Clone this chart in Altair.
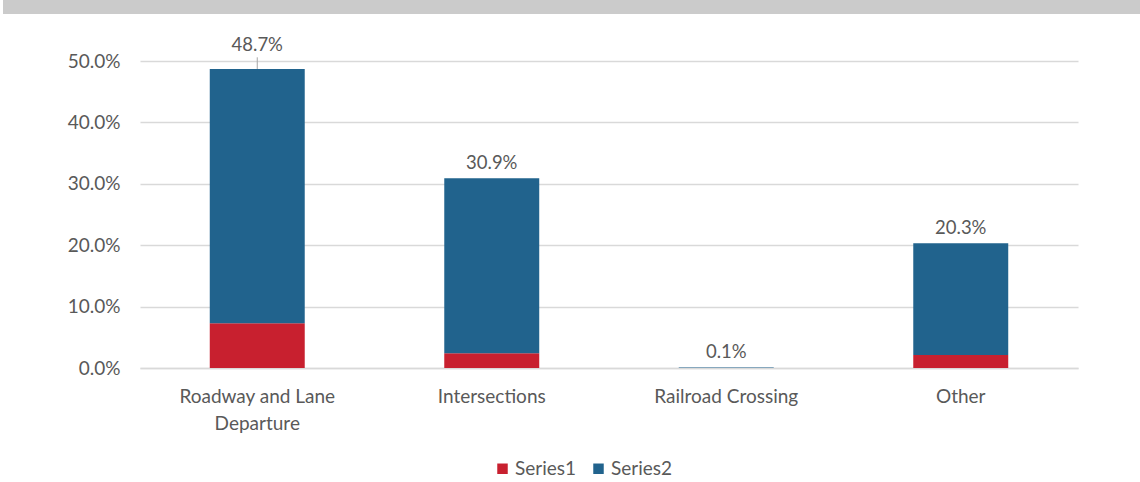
import altair as alt
import pandas as pd

categories = ["Roadway and Lane Departure", "Intersections", "Railroad Crossing", "Other"]
series_names = ["Series1", "Series2"]
series1 = [0.073, 0.024, 0.0002, 0.021]
series2 = [0.414, 0.285, 0.0008, 0.182]
totals = [0.487, 0.309, 0.001, 0.203]
total_labels = ["48.7%", "30.9%", "0.1%", "20.3%"]
y_ticks = [0, 0.1, 0.2, 0.3, 0.4, 0.5]

rows = []
for i, c in enumerate(categories):
    rows.append({"category": c, "series": "Series1", "idx": 0, "value": series1[i]})
    rows.append({"category": c, "series": "Series2", "idx": 1, "value": series2[i]})
df = pd.DataFrame(rows)
tot = pd.DataFrame({"category": categories, "total": totals, "label": total_labels})

FONT = "Lato"
GRAY = "#595959"

xaxis = alt.Axis(labelAngle=0, labelFont=FONT, labelFontSize=19, labelColor=GRAY,
                 labelPadding=19, labelLineHeight=27, ticks=False,
                 domainColor="#D9D9D9", domainWidth=1.5, title=None,
                 labelExpr="datum.label == 'Roadway and Lane Departure' ? ['Roadway and Lane', 'Departure'] : datum.label")
xscale = alt.Scale(paddingInner=0.595, paddingOuter=0.2975)
yaxis = alt.Axis(format=".1%", values=y_ticks, labelOverlap=False, title=None,
                 labelFont=FONT, labelFontSize=19, labelColor=GRAY, labelPadding=20,
                 ticks=False, domain=False, gridColor="#D9D9D9", gridWidth=1.3)
yscale = alt.Scale(domain=[0, 0.5], nice=False, zero=True)

def X():
    return alt.X("category:N", sort=categories, scale=xscale, axis=xaxis)

bars = alt.Chart(df).mark_bar().encode(
    x=X(),
    y=alt.Y("value:Q", stack="zero", scale=yscale, axis=yaxis),
    color=alt.Color("series:N", sort=series_names,
                    scale=alt.Scale(domain=series_names, range=["#C8202F", "#21638D"]),
                    legend=alt.Legend(title=None, orient="none", direction="horizontal",
                                      legendX=353, legendY=398, symbolType="square",
                                      symbolSize=110, symbolStrokeWidth=0, labelFont=FONT,
                                      labelFontSize=19, labelColor=GRAY, columnPadding=12,
                                      labelOffset=3)),
    order=alt.Order("idx:Q", sort="ascending"),
)

labels = alt.Chart(tot).transform_filter(
    "datum.category != 'Roadway and Lane Departure'"
).mark_text(font=FONT, fontSize=18.5, color=GRAY, baseline="bottom", dy=-5).encode(
    x=X(),
    y=alt.Y("total:Q", scale=yscale, axis=yaxis),
    text="label:N",
)

raised = alt.Chart(tot).transform_filter(
    "datum.category == 'Roadway and Lane Departure'"
).transform_calculate(
    top="datum.total + 0.019"
)

raised_label = raised.mark_text(font=FONT, fontSize=18.5, color=GRAY, baseline="bottom", dy=-2).encode(
    x=X(),
    y=alt.Y("top:Q", scale=yscale, axis=yaxis),
    text="label:N",
)
leader = raised.mark_rule(color="#A6A6A6", strokeWidth=1).encode(
    x=X(),
    y=alt.Y("total:Q", scale=yscale, axis=yaxis),
    y2="top:Q",
)

band = alt.Chart(pd.DataFrame({"k": [0]})).mark_rect(color="#CBCBCB").encode(
    x=alt.value(-137), x2=alt.value(1000), y=alt.value(-61), y2=alt.value(-47)
)

chart = alt.layer(band, bars, labels, leader, raised_label).properties(
    width=938, height=307,
    autosize=alt.AutoSizeParams(type="none"),
    padding={"left": 140, "top": 61, "right": 62, "bottom": 114},
    background="white",
).configure_view(stroke=None)

chart.save("out.html", embed_options={"renderer": "svg", "actions": False})
